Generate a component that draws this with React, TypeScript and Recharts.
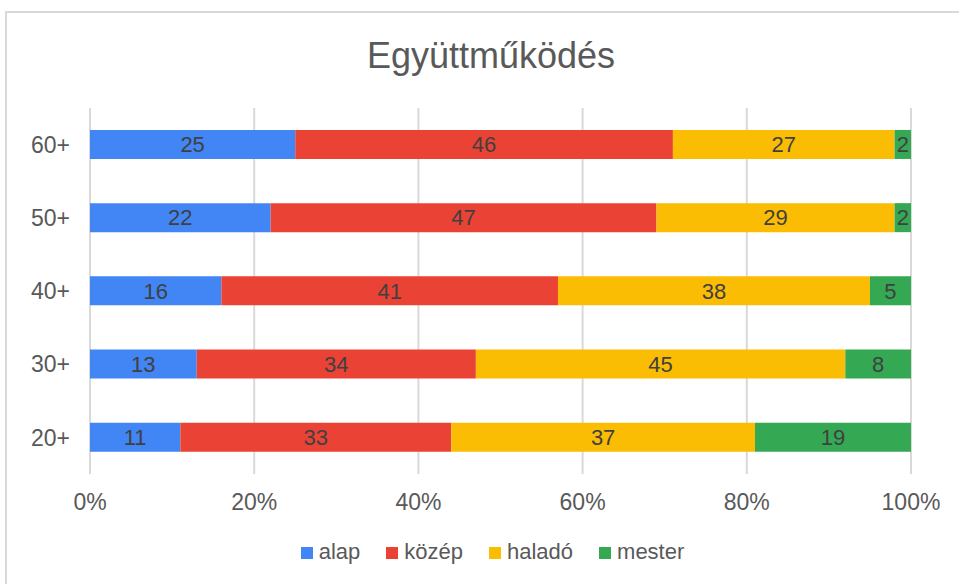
import React from "react";
import {
  BarChart,
  Bar,
  XAxis,
  YAxis,
  CartesianGrid,
  Legend,
  LabelList,
} from "recharts";

const ageGroups = ["60+", "50+", "40+", "30+", "20+"];
const alap = [25, 22, 16, 13, 11];
const kozep = [46, 47, 41, 34, 33];
const halado = [27, 29, 38, 45, 37];
const mester = [2, 2, 5, 8, 19];
const xTicks = [0, 20, 40, 60, 80, 100];

const data = ageGroups.map((age, i) => ({
  age,
  alap: alap[i],
  közép: kozep[i],
  haladó: halado[i],
  mester: mester[i],
}));

const series = [
  { key: "alap", color: "#4285F4" },
  { key: "közép", color: "#EA4335" },
  { key: "haladó", color: "#FBBC04" },
  { key: "mester", color: "#34A853" },
];
const seriesOrder = series.map((s) => s.key);

const FONT = "'Liberation Sans', Arial, sans-serif";
const GREY = "#595959";

export default function App() {
  return (
    <div
      style={{
        position: "absolute",
        left: 0,
        top: 0,
        width: 959,
        height: 584,
        background: "#fff",
        fontFamily: FONT,
        overflow: "hidden",
      }}
    >
      <div
        style={{
          position: "absolute",
          left: 5,
          top: 11,
          width: 960,
          height: 580,
          borderLeft: "2px solid #d9d9d9",
          borderTop: "2px solid #d9d9d9",
        }}
      />
      <div
        style={{
          position: "absolute",
          left: 0,
          top: 35,
          width: 982,
          textAlign: "center",
          fontSize: 36,
          color: GREY,
        }}
      >
        Együttműködés
      </div>
      <div style={{ position: "absolute", left: 0, top: 0 }}>
        <BarChart
          width={959}
          height={584}
          data={data}
          layout="vertical"
          barCategoryGap="30%"
          margin={{ top: 108, right: 48, left: 0, bottom: 20 }}
        >
          <CartesianGrid horizontal={false} stroke="#d9d9d9" strokeWidth={2} />
          <XAxis
            type="number"
            domain={[0, 100]}
            ticks={xTicks}
            tickFormatter={(v) => `${v}%`}
            axisLine={false}
            tickLine={false}
            tickSize={0}
            tickMargin={20}
            height={66}
            interval={0}
            tick={{ fontSize: 23, fill: GREY, fontFamily: FONT }}
          />
          <YAxis
            type="category"
            dataKey="age"
            width={90}
            axisLine={false}
            tickLine={false}
            tickSize={0}
            tickMargin={20}
            tick={{ fontSize: 23, fill: GREY, fontFamily: FONT }}
          />
          <Legend
            verticalAlign="bottom"
            align="center"
            iconType="square"
            iconSize={12}
            itemSorter={(item: any) => seriesOrder.indexOf(String(item.dataKey))}
            wrapperStyle={{ fontSize: 22, fontFamily: FONT, paddingLeft: 50, lineHeight: "24px" }}
            formatter={(value) => (
              <span style={{ color: GREY, marginLeft: 2, marginRight: 16 }}>{value}</span>
            )}
          />
          {series.map((s) => (
            <Bar
              key={s.key}
              dataKey={s.key}
              stackId="a"
              fill={s.color}
              isAnimationActive={false}
            >
              <LabelList
                dataKey={s.key}
                position="center"
                fill="#404040"
                fontSize={22}
                fontFamily={FONT}
              />
            </Bar>
          ))}
        </BarChart>
      </div>
    </div>
  );
}
